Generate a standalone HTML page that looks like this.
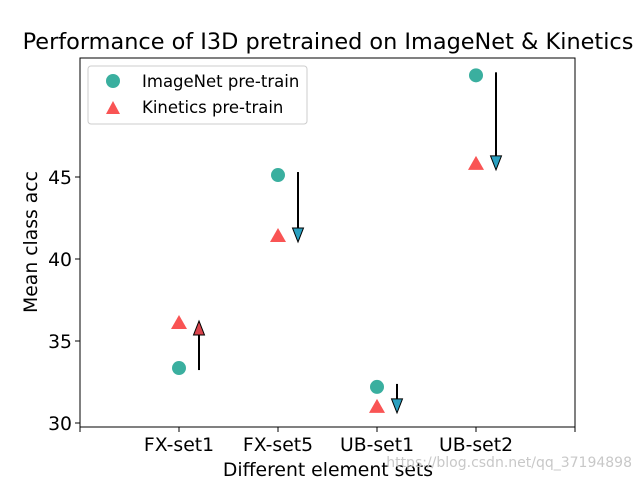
<!DOCTYPE html>
<html><head><meta charset="utf-8"><style>body{margin:0;background:#fff}svg{display:block;font-family:"DejaVu Sans","Liberation Sans",sans-serif}</style></head>
<body>
<svg id="c" width="640" height="480">
<rect x="0" y="0" width="640" height="480" fill="#fff"/>
<text x="328" y="49" font-size="22.4" text-anchor="middle">Performance of I3D pretrained on ImageNet &amp; Kinetics</text>
<g id="plot"></g>
<rect x="80" y="58" width="495" height="369" fill="none" stroke="#000" stroke-width="1"/>
<text x="328" y="476" font-size="18.8" text-anchor="middle">Different element sets</text>
<text x="0" y="0" font-size="18.8" text-anchor="middle" transform="translate(37,242) rotate(-90)">Mean class acc</text>
<g>
<rect x="88" y="66" width="219" height="58" rx="3" fill="#fff" stroke="#ccc"/>
<circle cx="113" cy="81" r="7" fill="#3aaf9f"/>
<text x="142" y="87" font-size="16.5">ImageNet pre-train</text>
<polygon points="113,101 120,114 106,114" fill="#f95454"/>
<text x="142" y="113" font-size="16.5">Kinetics pre-train</text>
</g>
<text x="632" y="467" font-size="14" fill="#c8c8c8" text-anchor="end">https://blog.csdn.net/qq_37194898</text>
</svg>
<script>
const categories=["FX-set1","FX-set5","UB-set1","UB-set2"];
const imagenet=[33.35,45.12,32.2,51.2];
const kinetics=[36.1,41.4,30.98,45.8];
const yTicks=[30,35,40,45];
const NS="http://www.w3.org/2000/svg";
const g=document.getElementById('plot');
const X=v=>80+v*99;
const Y=v=>423-(v-30)*16.4;
function mk(t,a){const e=document.createElementNS(NS,t);for(const k in a)e.setAttribute(k,a[k]);g.appendChild(e);return e;}
for(let i=0;i<=5;i++){const l=mk('line',{x1:X(i),x2:X(i),y1:427,y2:432,stroke:'#000'});

}
categories.forEach((c,i)=>{const t=mk('text',{x:X(i+1),y:451,'font-size':18.8,'text-anchor':'middle'});t.textContent=c;

});
yTicks.forEach(v=>{const l=mk('line',{x1:75,x2:80,y1:Y(v),y2:Y(v),stroke:'#000'});


const t=mk('text',{x:72,y:Y(v)+7,'font-size':18.8,'text-anchor':'end'});t.textContent=v;

});
categories.forEach((c,i)=>{
const x=X(i+1);
const iy=Y(imagenet[i]),ky=Y(kinetics[i]);
const p=mk('circle',{cx:x,cy:iy,r:7,fill:'#3aaf9f'});


const k=mk('polygon',{points:`${x},${ky-8} ${x+8},${ky+6} ${x-8},${ky+6}`,fill:'#f95454'});


const up=ky<iy,dir=up?1:-1,h=14;
const ax=x+20,y0=iy+(up?2:-3),y1=ky+(up?-2:6);
const ln=mk('line',{x1:ax,x2:ax,y1:y0,y2:y1+dir*h,stroke:'#000','stroke-width':2});


const hd=mk('polygon',{points:`${ax},${y1} ${ax+5.5},${y1+dir*h} ${ax-5.5},${y1+dir*h}`,fill:up?'#d9434b':'#2aa0c0',stroke:'#000','stroke-width':1});


});
</script>
</body></html>
